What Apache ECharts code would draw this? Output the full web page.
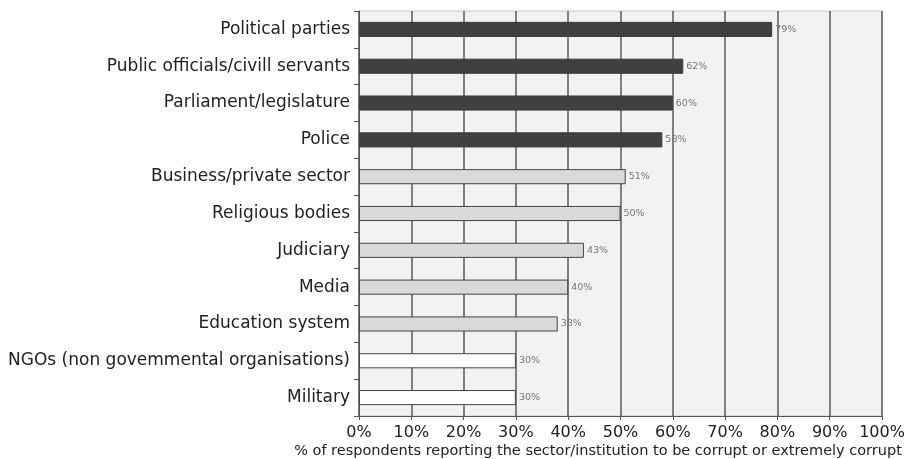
<!DOCTYPE html>
<html>
<head>
<meta charset="utf-8">
<script src="https://cdn.jsdelivr.net/npm/echarts@6/dist/echarts.min.js"></script>
<style>
  html, body { margin: 0; padding: 0; background: #fff; }
  #chart { width: 911px; height: 459px; }
</style>
</head>
<body>
<div id="chart"></div>
<script>
// institutions, top to bottom
const categories = [
  'Political parties',
  'Public officials/civill servants',
  'Parliament/legislature',
  'Police',
  'Business/private sector',
  'Religious bodies',
  'Judiciary',
  'Media',
  'Education system',
  'NGOs (non govemmental organisations)',
  'Military'
];
const values = [79, 62, 60, 58, 51, 50, 43, 40, 38, 30, 30];
// shading band of each bar
const bands = ['high', 'high', 'high', 'high', 'mid', 'mid', 'mid', 'mid', 'mid', 'low', 'low'];
const xTicks = [0, 10, 20, 30, 40, 50, 60, 70, 80, 90, 100];

const bandStyle = {
  high: { color: '#404040', borderColor: '#3a3a3a', borderWidth: 1 },
  mid:  { color: '#d9d9d9', borderColor: '#444', borderWidth: 1 },
  low:  { color: '#ffffff', borderColor: '#444', borderWidth: 1 }
};

const chart = echarts.init(document.getElementById('chart'));
chart.setOption({
  animation: false,
  title: {
    text: '% of respondents reporting the sector/institution to be corrupt or extremely corrupt',
    left: 593,
    top: 439,
    textAlign: 'center',
    textStyle: { fontFamily: 'DejaVu Sans', fontSize: 14.5, fontWeight: 'normal', color: '#222' }
  },
  grid: {
    left: 359,
    right: 29,
    top: 11,
    bottom: 43,
    show: true,
    backgroundColor: '#f2f2f2',
    borderColor: '#c8c8c8',
    borderWidth: 1
  },
  xAxis: {
    type: 'value',
    min: xTicks[0],
    max: xTicks[xTicks.length - 1],
    interval: 10,
    axisLine: { show: true, lineStyle: { color: '#555', width: 1 } },
    axisTick: { show: true, length: 4, lineStyle: { color: '#555' } },
    axisLabel: {
      formatter: '{value}%',
      fontFamily: 'DejaVu Sans',
      fontSize: 16,
      color: '#222',
      margin: 9
    },
    splitLine: { show: true, lineStyle: { color: '#5a5a5a', width: 1.5 } }
  },
  yAxis: {
    type: 'category',
    data: categories,
    inverse: true,
    axisLine: { show: true, lineStyle: { color: '#555', width: 1 } },
    axisTick: { show: true, length: 5, lineStyle: { color: '#555' } },
    axisLabel: {
      fontFamily: 'DejaVu Sans',
      fontSize: 17,
      color: '#222',
      margin: 9
    }
  },
  series: [{
    type: 'bar',
    barWidth: '41%',
    data: values.map((v, i) => ({ value: v, itemStyle: bandStyle[bands[i]] })),
    label: {
      show: true,
      position: 'right',
      distance: 3,
      formatter: '{c}%',
      fontFamily: 'DejaVu Sans',
      fontSize: 9.5,
      color: '#777'
    }
  }]
});
</script>
</body>
</html>
